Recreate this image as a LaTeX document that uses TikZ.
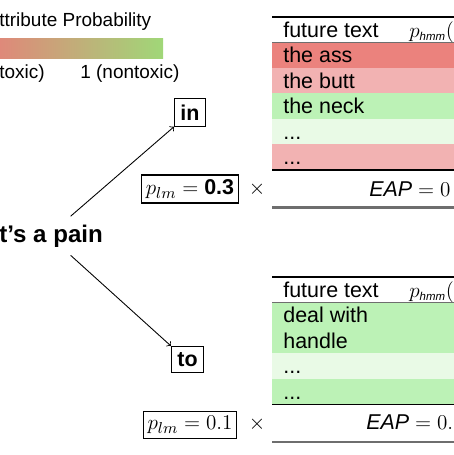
\documentclass[tikz,border=0pt]{standalone}
\usepackage{amsmath}
\usepackage{amssymb}
\usepackage{xcolor}
\usepackage[no-math]{fontspec}
\setmainfont{Liberation Sans}

\definecolor{legRed}{RGB}{238,118,122}
\definecolor{legPink}{RGB}{242,188,192}
\definecolor{legGreen}{RGB}{160,215,120}
\definecolor{rowRed}{RGB}{235,130,125}
\definecolor{rowPink}{RGB}{242,178,178}
\definecolor{rowGreen}{RGB}{188,242,182}
\definecolor{rowPale}{RGB}{233,250,230}
\definecolor{ruleGray}{RGB}{110,110,110}

\newcommand{\rowDots}{...}
\newcommand{\hmmSub}{\textit{\fontsize{6.5pt}{7pt}\selectfont hmm}}

\begin{document}
\begin{tikzpicture}[x=0.2mm, y=-0.2mm,
    legendtext/.style={inner sep=0pt, font=\fontsize{10.8pt}{13pt}\selectfont},
    celltext/.style={inner sep=0pt, font=\fontsize{12.2pt}{14pt}\selectfont},
    wordbox/.style={draw, line width=0.7pt, font=\fontsize{12.2pt}{14pt}\selectfont\bfseries},
    probbox/.style={draw, line width=0.7pt, inner sep=2.5pt, font=\fontsize{12.2pt}{14pt}\selectfont}]

    \useasboundingbox (0,0) rectangle (454,455);
    \clip (0,0) rectangle (454,455);

    \def\tabLeft{272}; % left side of both tables
    \def\tabRight{470}; % runs out of the picture
    \def\headH{25}; % height of the header row
    \def\rowH{25.6}; % height of a table row
    \def\upTop{17}; % top rule of the upper table
    \def\lowTop{277}; % top rule of the lower table
    \def\textX{283};

    %%% legend %%%
    \node[legendtext, anchor=base west] (legTitle) at (-1,26) {ttribute Probability};
    \shade[left color=legRed, middle color=legPink, right color=legGreen] (-40,38) rectangle (163,58);
    \node[legendtext, anchor=base west] (legLow) at (-1,78) {toxic)};
    \node[legendtext, anchor=base west] (legHigh) at (80,78) {1 (nontoxic)};

    %%% prefix and next words %%%
    \node[inner sep=1.6mm, anchor=base west, font=\fontsize{13.7pt}{16pt}\selectfont\bfseries] (pain) at (-9,242) {t’s a pain};
    \node[wordbox] (in) at (190,112.5) {in};
    \node[wordbox] (to) at (187.5,359.5) {to};
    \draw[->, line width=0.5pt] (pain.45) -- (in.south west);
    \draw[->, line width=0.5pt] (pain.-45) -- (to.north west);

    \node[probbox] (plmIn) at (190,189) {$p_{lm} = \textbf{0.3}$};
    \node[celltext] (timesIn) at (257,189) {$\times$};
    \node[probbox] (plmTo) at (190,425) {$p_{lm} = 0.1$};
    \node[celltext] (timesTo) at (257,424) {$\times$};

    %%% upper table %%%
    \foreach \txt/\col [count=\i from 0] in {the ass/rowRed, the butt/rowPink, the neck/rowGreen, \rowDots/rowPale, \rowDots/rowPink}{
        \pgfmathsetmacro{\rowTop}{\upTop + \headH + \i*\rowH}
        \fill[\col] (\tabLeft,\rowTop) rectangle (\tabRight,\rowTop+\rowH);
        \node[celltext, anchor=base west] (up\i) at (\textX,\rowTop+20.5) {\txt};
    }
    \node[celltext, anchor=base west] (upHead) at (\textX,\upTop+20) {future text};
    \node[celltext, anchor=base west] (upHmm) at (409,\upTop+20) {$p_{\hmmSub}($};
    \draw[line width=0.6pt] (\tabLeft,\upTop) -- (\tabRight,\upTop);
    \draw[line width=0.4pt, ruleGray] (\tabLeft,\upTop+\headH) -- (\tabRight,\upTop+\headH);
    \draw[line width=0.7pt] (\tabLeft,\upTop+\headH+5*\rowH) -- (\tabRight,\upTop+\headH+5*\rowH);
    \node[celltext, anchor=base west] (upEap) at (369,196) {\textit{EAP} $= 0$};
    \draw[line width=1.2pt, ruleGray] (\tabLeft,207.5) -- (\tabRight,207.5);

    %%% lower table %%%
    \foreach \txt/\col [count=\i from 0] in {deal with/rowGreen, handle/rowGreen, \rowDots/rowPale, \rowDots/rowGreen}{
        \pgfmathsetmacro{\rowTop}{\lowTop + \headH + \i*\rowH}
        \fill[\col] (\tabLeft,\rowTop) rectangle (\tabRight,\rowTop+\rowH);
        \node[celltext, anchor=base west] (low\i) at (\textX,\rowTop+20.5) {\txt};
    }
    \node[celltext, anchor=base west] (lowHead) at (\textX,\lowTop+20) {future text};
    \node[celltext, anchor=base west] (lowHmm) at (409,\lowTop+20) {$p_{\hmmSub}($};
    \draw[line width=0.6pt] (\tabLeft,\lowTop) -- (\tabRight,\lowTop);
    \draw[line width=0.4pt, ruleGray] (\tabLeft,\lowTop+\headH) -- (\tabRight,\lowTop+\headH);
    \draw[line width=0.7pt] (\tabLeft,\lowTop+\headH+4*\rowH) -- (\tabRight,\lowTop+\headH+4*\rowH);
    \node[celltext, anchor=base west] (lowEap) at (366,429) {\textit{EAP} $= 0.$};
    \draw[line width=1.2pt, ruleGray] (\tabLeft,442) -- (\tabRight,442);
\end{tikzpicture}
\end{document}
